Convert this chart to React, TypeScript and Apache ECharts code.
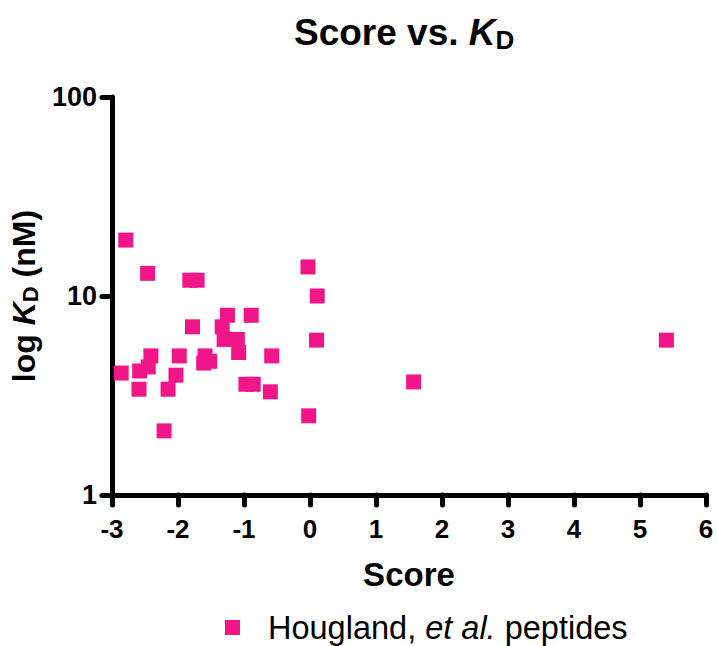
import React, { useEffect, useRef } from "react";
import * as echarts from "echarts";

const FONT = "'Liberation Sans', Arial, Helvetica, sans-serif";

const scores = [
  -2.79, -2.46, -1.82, -1.71, -0.03, -1.25, -0.89, -1.78, -1.33, -1.3, -1.1,
  -1.08, -2.41, -1.98, -1.59, -0.58, -1.52, -1.61, -2.45, -2.58, -2.86, -2.03,
  -2.59, -2.15, -0.97, -0.86, -0.6, -2.21, -0.02, 0.11, 0.1, 1.57, 5.4,
];
const kdValues = [
  19.1, 13.0, 12.0, 12.0, 14.0, 8.0, 8.0, 7.0, 7.0, 6.05, 6.05, 5.2, 5.0, 5.0,
  5.0, 5.0, 4.7, 4.6, 4.4, 4.2, 4.1, 4.0, 3.4, 3.4, 3.6, 3.6, 3.3, 2.1, 2.5,
  10.0, 6.0, 3.7, 6.0,
];
const seriesName = "Hougland, et al. peptides";
const xTicks = { min: -3, max: 6, interval: 1 };
const yTicks = { min: 1, max: 100 };

export default function App() {
  const ref = useRef<HTMLDivElement>(null);
  useEffect(() => {
    if (!ref.current) return;
    const chart = echarts.init(ref.current, null, { renderer: "svg" });
    const data = scores.map((s, i) => [s, kdValues[i]]);
    chart.setOption({
      animation: false,
      backgroundColor: "#fff",
      title: {
        text: "{a|Score vs. }{k|K}{d|D}",
        left: 289,
        top: 6,
        textStyle: {
          rich: {
            a: { fontSize: 37, fontWeight: "bold", fontFamily: FONT, color: "#000" },
            k: { fontSize: 37, fontWeight: "bold", fontStyle: "italic", fontFamily: FONT, color: "#000" },
            d: { fontSize: 26, fontWeight: "bold", fontFamily: FONT, color: "#000", padding: [16, 0, 0, 0] },
          },
        },
      },
      legend: {
        left: 220,
        top: 606,
        icon: "rect",
        itemWidth: 15,
        itemHeight: 15,
        data: [seriesName],
        formatter: () => "{n|Hougland, }{i|et al.}{n| peptides}",
        textStyle: {
          rich: {
            n: { fontSize: 32.5, fontFamily: FONT, color: "#000" },
            i: { fontSize: 32.5, fontFamily: FONT, fontStyle: "italic", color: "#000" },
          },
          padding: [0, 0, 0, 23],
        },
      },
      grid: { left: 106, top: 97, width: 600, height: 398, containLabel: false },
      xAxis: {
        type: "value",
        min: xTicks.min,
        max: xTicks.max,
        interval: xTicks.interval,
        name: "Score",
        nameLocation: "middle",
        nameGap: 63,
        nameTextStyle: { fontSize: 33, fontWeight: "bold", fontFamily: FONT, color: "#000" },
        splitLine: { show: false },
        axisLine: { onZero: false, lineStyle: { color: "#000", width: 5, cap: "round" } },
        axisTick: { length: 10, lineStyle: { color: "#000", width: 5, cap: "round" } },
        axisLabel: { fontSize: 26, fontWeight: "bold", fontFamily: FONT, color: "#000", margin: 21 },
      },
      yAxis: {
        type: "log",
        logBase: 10,
        min: yTicks.min,
        max: yTicks.max,
        name: "{a|log }{k|K}{d|D}{a| (nM)}",
        nameLocation: "middle",
        nameRotate: 90,
        nameGap: 50,
        nameTextStyle: {
          rich: {
            a: { fontSize: 32, fontWeight: "bold", fontFamily: FONT, color: "#000" },
            k: { fontSize: 32, fontWeight: "bold", fontStyle: "italic", fontFamily: FONT, color: "#000" },
            d: { fontSize: 22, fontWeight: "bold", fontFamily: FONT, color: "#000", padding: [12, 0, 0, 0] },
          },
        },
        splitLine: { show: false },
        minorTick: { show: false },
        axisLine: { onZero: false, lineStyle: { color: "#000", width: 5, cap: "round" } },
        axisTick: { length: 10, lineStyle: { color: "#000", width: 5, cap: "round" } },
        axisLabel: { fontSize: 27, fontWeight: "bold", fontFamily: FONT, color: "#000", margin: 15 },
      },
      series: [
        {
          name: seriesName,
          type: "scatter",
          symbol: "rect",
          symbolSize: 15,
          itemStyle: { color: "#F0168A", opacity: 1 },
          data,
        },
      ],
    });
    return () => chart.dispose();
  }, []);
  return (
    <div
      ref={ref}
      style={{ position: "fixed", left: 0, top: 0, width: 717, height: 646, background: "#fff" }}
    />
  );
}
